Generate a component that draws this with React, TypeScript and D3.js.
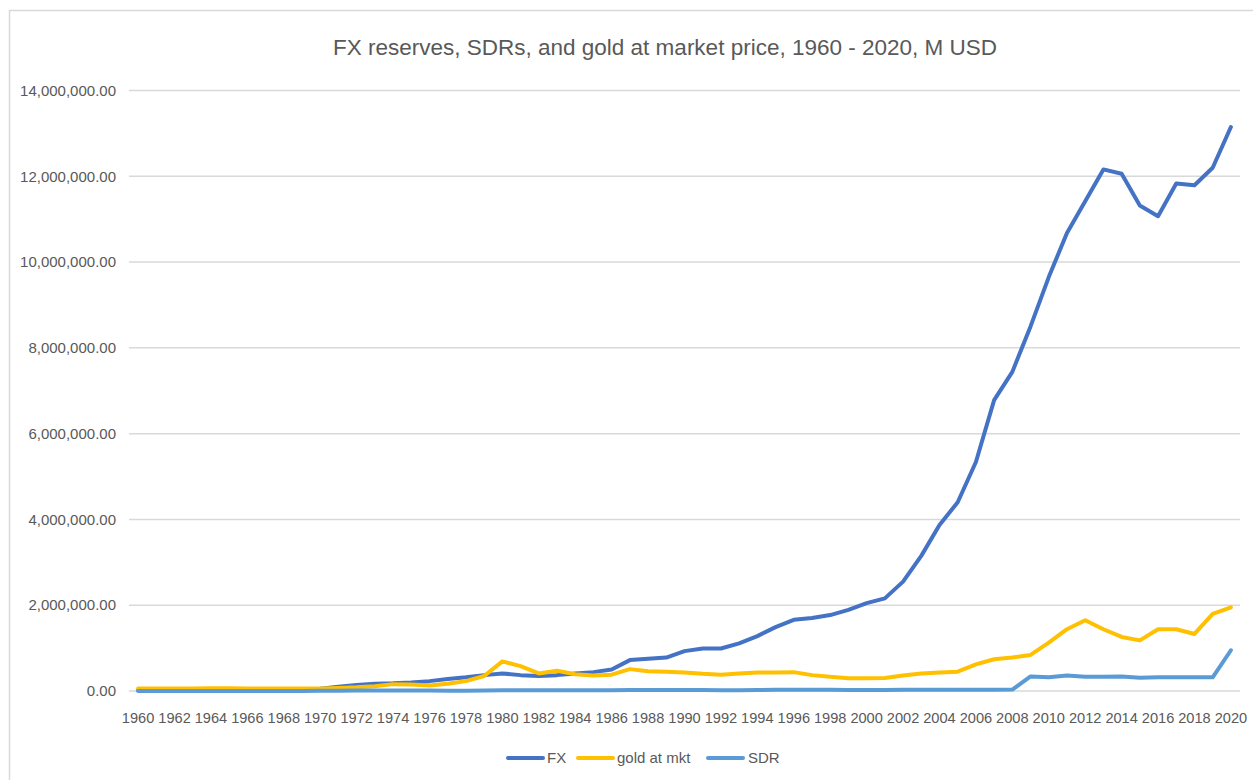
import { scalePoint, scaleLinear, line, format } from 'd3';

const width = 1253;
const height = 780;
const margin = { top: 90.5, right: 13, bottom: 89, left: 129 };

const title = 'FX reserves, SDRs, and gold at market price, 1960 - 2020, M USD';

const years = [
  1960, 1961, 1962, 1963, 1964, 1965, 1966, 1967, 1968, 1969,
  1970, 1971, 1972, 1973, 1974, 1975, 1976, 1977, 1978, 1979,
  1980, 1981, 1982, 1983, 1984, 1985, 1986, 1987, 1988, 1989,
  1990, 1991, 1992, 1993, 1994, 1995, 1996, 1997, 1998, 1999,
  2000, 2001, 2002, 2003, 2004, 2005, 2006, 2007, 2008, 2009,
  2010, 2011, 2012, 2013, 2014, 2015, 2016, 2017, 2018, 2019, 2020,
];

const fxValues = [
  20000, 22000, 22000, 25000, 27000, 28000, 30000, 33000, 35000, 34000,
  50000, 100000, 140000, 170000, 180000, 200000, 230000, 280000, 320000, 370000,
  410000, 370000, 350000, 370000, 410000, 440000, 500000, 720000, 750000, 780000,
  930000, 990000, 990000, 1110000, 1280000, 1490000, 1660000, 1700000, 1770000, 1890000,
  2050000, 2160000, 2550000, 3150000, 3870000, 4400000, 5340000, 6780000, 7440000, 8500000,
  9650000, 10680000, 11420000, 12160000, 12060000, 11320000, 11070000, 11830000, 11790000, 12200000, 13150000,
];

const goldValues = [
  58000, 59000, 60000, 61000, 62000, 62000, 61000, 58000, 57000, 58000,
  58000, 70000, 85000, 110000, 160000, 150000, 130000, 170000, 230000, 350000,
  690000, 580000, 410000, 470000, 390000, 360000, 380000, 510000, 460000, 450000,
  430000, 400000, 380000, 410000, 430000, 430000, 440000, 370000, 330000, 300000,
  300000, 305000, 360000, 410000, 430000, 450000, 620000, 740000, 780000, 840000,
  1130000, 1440000, 1650000, 1440000, 1260000, 1180000, 1440000, 1440000, 1330000, 1800000, 1950000,
];

const sdrValues = [
  0, 0, 0, 0, 0, 0, 0, 0, 0, 0,
  3000, 6000, 9000, 9000, 9000, 9000, 9000, 8000, 8000, 12000,
  15000, 18000, 20000, 17000, 17000, 19000, 20000, 23000, 22000, 22000,
  24000, 26000, 18000, 19000, 22000, 29000, 28000, 28000, 28000, 25000,
  24000, 24000, 27000, 30000, 31000, 28000, 30000, 32000, 33000, 340000,
  320000, 360000, 330000, 330000, 340000, 310000, 320000, 320000, 320000, 320000, 950000,
];

const yTicks = [0, 2000000, 4000000, 6000000, 8000000, 10000000, 12000000, 14000000];
const xTickYears = years.filter((y) => (y - 1960) % 2 === 0);

const series = [
  { name: 'FX', values: fxValues, color: '#4472C4' },
  { name: 'gold at mkt', values: goldValues, color: '#FFC000' },
  { name: 'SDR', values: sdrValues, color: '#5B9BD5' },
];

const font = '"Liberation Sans", Arial, sans-serif';
const textColor = '#595959';

const x = scalePoint<number>()
  .domain(years)
  .range([margin.left, width - margin.right])
  .padding(0.5);

const y = scaleLinear()
  .domain([0, 14000000])
  .range([height - margin.bottom, margin.top]);

const fmt = format(',.2f');

const App = () => {
  const legendItems = [
    { x: 508, textX: 547 },
    { x: 578, textX: 617 },
    { x: 708, textX: 748 },
  ];
  return (
    <div style={{ position: 'absolute', left: 0, top: 0 }}>
      <svg width={width} height={height} style={{ display: 'block', background: '#fff' }}>
        {/* chart frame */}
        <path d={`M9.5,${height} V10.5 H${width}`} fill="none" stroke="#D9D9D9" strokeWidth={1.5} />

        <text x={665} y={55} textAnchor="middle" fontFamily={font} fontSize={22.5} fill={textColor}>
          {title}
        </text>

        {yTicks.map((t) => (
          <g key={t}>
            <line
              x1={margin.left}
              x2={width - margin.right}
              y1={y(t)}
              y2={y(t)}
              stroke="#D9D9D9"
              strokeWidth={1.5}
            />
            <text
              x={116}
              y={y(t)}
              dy="0.35em"
              textAnchor="end"
              fontFamily={font}
              fontSize={15}
              fill={textColor}
            >
              {fmt(t)}
            </text>
          </g>
        ))}

        {xTickYears.map((yr) => (
          <text
            key={yr}
            x={x(yr)}
            y={723}
            textAnchor="middle"
            fontFamily={font}
            fontSize={14.6}
            fill={textColor}
          >
            {yr}
          </text>
        ))}

        {series.map((s) => {
          const path = line<number>()
            .x((_, i) => x(years[i]) as number)
            .y((d) => y(d));
          return (
            <path
              key={s.name}
              d={path(s.values) || ''}
              fill="none"
              stroke={s.color}
              strokeWidth={4}
              strokeLinejoin="round"
              strokeLinecap="round"
            />
          );
        })}

        {series.map((s, i) => (
          <g key={s.name}>
            <line
              x1={legendItems[i].x}
              x2={legendItems[i].x + 35}
              y1={758}
              y2={758}
              stroke={s.color}
              strokeWidth={4}
              strokeLinecap="round"
            />
            <text
              x={legendItems[i].textX}
              y={758}
              dy="0.35em"
              fontFamily={font}
              fontSize={15}
              fill={textColor}
            >
              {s.name}
            </text>
          </g>
        ))}
      </svg>
    </div>
  );
};

export default App;
